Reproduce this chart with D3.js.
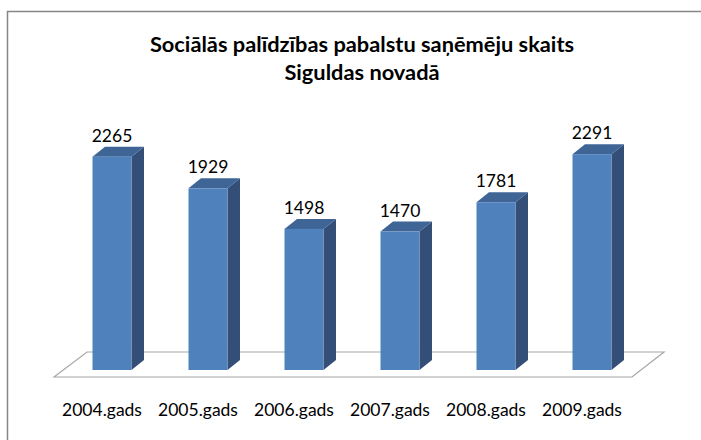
<!DOCTYPE html>
<html><head><meta charset="utf-8">
<script src="https://cdn.jsdelivr.net/npm/d3@7"></script>
<style>body{margin:0;background:#fff}svg{display:block}</style>
</head><body>
<svg id="c" width="701" height="440"></svg>
<script>
const categories = ["2004.gads","2005.gads","2006.gads","2007.gads","2008.gads","2009.gads"];
const values = [2265, 1929, 1498, 1470, 1781, 2291];
const titleLines = ["Sociālās palīdzības pabalstu saņēmēju skaits", "Siguldas novadā"];

const svg = d3.select("#c");
const font = "Lato, 'Open Sans', sans-serif";

// outer border
svg.append("path").attr("d","M7.5,445 L7.5,11.5 L710,11.5")
  .attr("fill","none").attr("stroke","#868686").attr("stroke-width",1.5);

const x = d3.scaleBand().domain(categories).range([64,640])
  .paddingInner(57/96).paddingOuter(57/192);
const y = d3.scaleLinear().domain([0,2500]).range([370, 370-235.5]);
const dx = 12.5, dy = -10;

// floor
const [r0, r1] = x.range();
const fb = 352, ff = 377;
svg.append("path")
  .attr("d", `M${r0-10},${ff} L${r0+23},${fb} L${r1+24},${fb} L${r1-8},${ff} Z`)
  .attr("fill","#fff").attr("stroke","#a6a6a6").attr("stroke-width",1.2);

// title
svg.append("g").selectAll("text").data(titleLines).join("text")
  .attr("x",362).attr("y",(d,i)=>52+i*28)
  .attr("text-anchor","middle").attr("font-family",font)
  .attr("font-weight","bold").attr("font-size",21.8).attr("fill","#000").text(d=>d);

const bars = svg.append("g").selectAll("g").data(values).join("g");
bars.each(function(v,i){
  const g = d3.select(this);
  const x0 = x(categories[i]), x1 = x0 + x.bandwidth();
  const yt = y(v), yb = y(0);
  // side
  g.append("path")
    .attr("d",`M${x1},${yt} L${x1+dx},${yt+dy} L${x1+dx},${yb+dy} L${x1},${yb} Z`)
    .attr("fill","#334f77");
  // top
  g.append("path")
    .attr("d",`M${x0},${yt} L${x0+dx},${yt+dy} L${x1+dx},${yt+dy} L${x1},${yt} Z`)
    .attr("fill","#3e6596");
  // front
  g.append("rect").attr("x",x0).attr("y",yt).attr("width",x.bandwidth()).attr("height",yb-yt)
    .attr("fill","#4f81bd");
  // value label
  g.append("text").attr("x",x0+x.bandwidth()/2).attr("y",yt-15)
    .attr("text-anchor","middle").attr("font-family",font).attr("font-size",17.5)
    .attr("fill","#000").text(v);
});

// category labels
svg.append("g").selectAll("text").data(categories).join("text")
  .attr("x",d=>x(d)+x.bandwidth()/2-10).attr("y",416)
  .attr("text-anchor","middle").attr("font-family",font).attr("font-size",17.5)
  .attr("fill","#000").text(d=>d);
</script>
</body></html>
